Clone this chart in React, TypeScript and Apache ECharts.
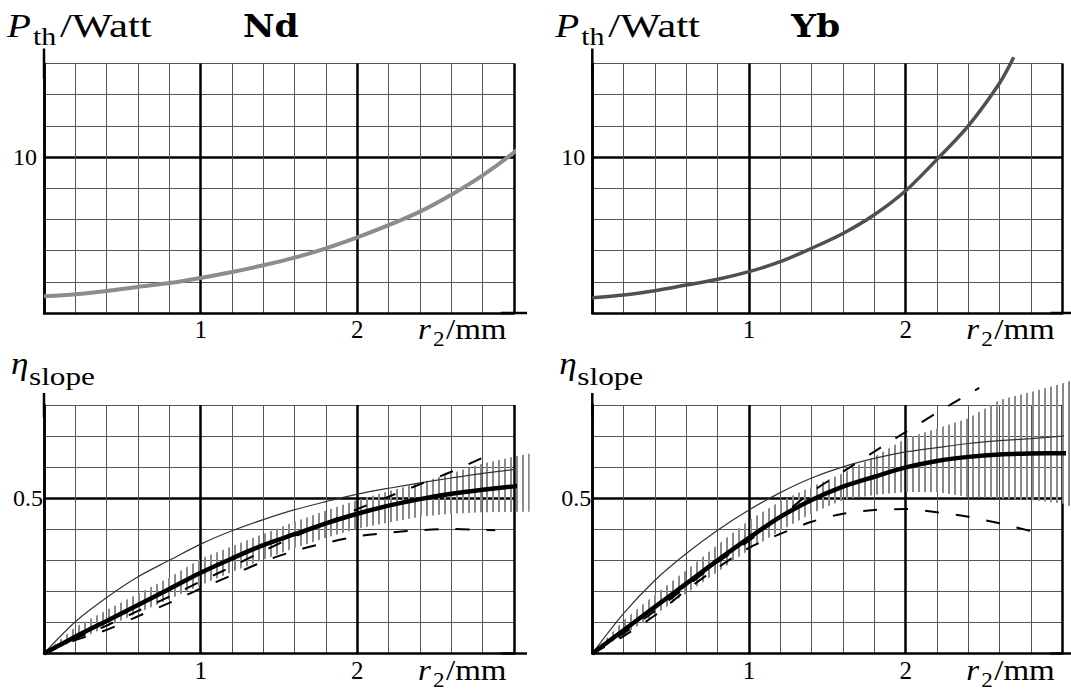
import React, { useEffect, useRef } from 'react';
import * as echarts from 'echarts';

// ---------- data (r2 in mm) ----------
const R_TOP_ND = [0, 0.2, 0.4, 0.6, 0.8, 1, 1.2, 1.4, 1.6, 1.8, 2, 2.2, 2.4, 2.6, 2.8, 3, 3.1];
const P_TH_ND = [1.07, 1.2, 1.41, 1.67, 1.92, 2.25, 2.63, 3.06, 3.55, 4.15, 4.85, 5.63, 6.5, 7.58, 8.82, 10.3, 11.2];
const R_TOP_YB = [0, 0.2, 0.4, 0.6, 0.8, 1, 1.2, 1.4, 1.6, 1.8, 2, 2.2, 2.4, 2.6, 2.69];
const P_TH_YB = [0.98, 1.15, 1.43, 1.79, 2.16, 2.65, 3.29, 4.15, 5.1, 6.3, 7.84, 9.85, 12.0, 14.75, 16.4];

const R_ND_THICK = [0, 0.2, 0.4, 0.6, 0.8, 1, 1.2, 1.4, 1.6, 1.8, 2, 2.2, 2.4, 2.6, 2.8, 3, 3.18];
const ETA_ND_THICK = [0, 0.054, 0.105, 0.156, 0.208, 0.26, 0.306, 0.349, 0.384, 0.419, 0.45, 0.476, 0.497, 0.514, 0.527, 0.538, 0.549];
const R_ND_THIN = [0, 0.2, 0.4, 0.6, 0.8, 1, 1.2, 1.4, 1.6, 1.8, 2, 2.2, 2.4, 2.6, 2.8, 3, 3.08];
const ETA_ND_THIN = [0, 0.102, 0.18, 0.247, 0.3, 0.352, 0.395, 0.431, 0.463, 0.489, 0.513, 0.532, 0.549, 0.565, 0.58, 0.592, 0.597];
const R_ND_DASH = [0, 0.2, 0.4, 0.6, 0.8, 1, 1.2, 1.4, 1.6, 1.8, 2, 2.2, 2.4, 2.6, 2.8, 2.88];
const ETA_ND_DASH_UP = [0, 0.048, 0.09, 0.137, 0.183, 0.232, 0.28, 0.33, 0.377, 0.42, 0.465, 0.505, 0.545, 0.585, 0.63, 0.648];
const ETA_ND_DASH_LO = [0, 0.043, 0.076, 0.12, 0.163, 0.209, 0.252, 0.296, 0.33, 0.356, 0.377, 0.389, 0.397, 0.401, 0.398, 0.397];
const R_ND_BAND = [0, 0.2, 0.4, 0.6, 0.8, 1, 1.2, 1.4, 1.6, 1.8, 2, 2.2, 2.4, 2.6, 2.8, 3, 3.1];
const ETA_ND_BAND_LO = [0, 0.04, 0.085, 0.13, 0.175, 0.22, 0.262, 0.302, 0.34, 0.373, 0.402, 0.422, 0.44, 0.45, 0.455, 0.456, 0.456];
const ETA_ND_BAND_HI = [0, 0.085, 0.14, 0.192, 0.245, 0.305, 0.345, 0.385, 0.424, 0.46, 0.494, 0.522, 0.55, 0.58, 0.612, 0.633, 0.644];

const R_YB_THICK = [0, 0.2, 0.4, 0.6, 0.8, 1, 1.2, 1.4, 1.6, 1.8, 2, 2.2, 2.4, 2.6, 2.8, 3, 3.06];
const ETA_YB_THICK = [0, 0.075, 0.15, 0.225, 0.3, 0.372, 0.44, 0.494, 0.537, 0.569, 0.599, 0.62, 0.633, 0.641, 0.644, 0.645, 0.645];
const R_YB_THIN = [0, 0.2, 0.4, 0.6, 0.8, 1, 1.2, 1.4, 1.6, 1.8, 2, 2.2, 2.4, 2.6, 2.8, 3, 3.06];
const ETA_YB_THIN = [0, 0.129, 0.236, 0.322, 0.397, 0.462, 0.518, 0.565, 0.601, 0.628, 0.649, 0.663, 0.676, 0.685, 0.692, 0.7, 0.703];
const R_YB_DASH_UP = [0, 0.2, 0.4, 0.6, 0.8, 1, 1.2, 1.4, 1.6, 1.8, 2, 2.2, 2.4, 2.47];
const ETA_YB_DASH_UP = [0, 0.065, 0.137, 0.215, 0.293, 0.363, 0.44, 0.52, 0.585, 0.65, 0.713, 0.775, 0.835, 0.855];
const R_YB_DASH_LO = [0, 0.2, 0.4, 0.6, 0.8, 1, 1.2, 1.4, 1.6, 1.8, 2, 2.2, 2.4, 2.6, 2.8, 2.87];
const ETA_YB_DASH_LO = [0, 0.056, 0.123, 0.204, 0.276, 0.34, 0.385, 0.424, 0.45, 0.462, 0.465, 0.455, 0.44, 0.419, 0.394, 0.385];
const R_YB_BAND = [0, 0.2, 0.4, 0.6, 0.8, 1, 1.2, 1.4, 1.6, 1.8, 2, 2.2, 2.4, 2.6, 2.8, 3, 3.06];
const ETA_YB_BAND_LO = [0, 0.059, 0.125, 0.193, 0.262, 0.333, 0.395, 0.451, 0.494, 0.51, 0.52, 0.52, 0.504, 0.499, 0.494, 0.483, 0.472];
const ETA_YB_BAND_HI = [0, 0.107, 0.19, 0.268, 0.35, 0.429, 0.49, 0.537, 0.58, 0.633, 0.692, 0.724, 0.757, 0.816, 0.842, 0.869, 0.88];

const X_TICK_LABELS = [1, 2];
const Y_TOP_LABEL = 10;
const Y_BOT_LABEL = 0.5;
const PANEL_TITLES = ['Nd', 'Yb'];

// ---------- layout ----------
const GRIDS = [
  { left: 44, top: 63.5, width: 470, height: 249.5 },
  { left: 592.3, top: 63.5, width: 470, height: 249.5 },
  { left: 44, top: 405, width: 470, height: 248.5 },
  { left: 592.3, top: 405, width: 470, height: 248.5 },
];
const FONT = 'Liberation Serif';
const FONT_BOLD = 'DejaVu Serif';
const THIN = { color: '#555', width: 1 };
const THICK = { color: '#000', width: 2.5 };

function stripe() {
  const c = document.createElement('canvas');
  c.width = 6;
  c.height = 6;
  const ctx = c.getContext('2d');
  if (ctx) {
    ctx.fillStyle = '#8a8a8a';
    ctx.fillRect(0, 0, 2, 6);
  }
  return { image: c.toDataURL(), repeat: 'repeat', imageWidth: 6, imageHeight: 6 };
}

function txt(text: string, x: number, base: number, size: number, o: any = {}) {
  const fam = o.fam || FONT;
  const font = `${o.italic ? 'italic ' : ''}${o.bold ? 'bold ' : ''}${size}px ${fam}`;
  return {
    type: 'text',
    x,
    y: base - 0.3375 * size,
    scaleX: o.sx || 1,
    silent: true,
    style: { text, fill: '#000', font, align: 'left', verticalAlign: 'middle' },
  };
}

function buildOption() {
  const pattern = stripe();
  const xAxis: any[] = [];
  const yAxis: any[] = [];
  GRIDS.forEach((_, g) => {
    const top = g < 2;
    const right = g % 2 === 1;
    xAxis.push({
      gridIndex: g, type: 'value', min: 0, max: 3, interval: 0.2, position: 'bottom',
      axisLine: { show: false }, axisTick: { show: false }, axisLabel: { show: false },
      splitLine: { show: true, lineStyle: THIN },
    });
    xAxis.push({
      gridIndex: g, type: 'value', min: 0, max: 3, interval: 1, position: 'bottom',
      axisLine: {
        show: true, onZero: false, lineStyle: THICK,
        symbol: ['none', 'rect'], symbolSize: [2.5, right ? 24 : 26],
      },
      axisTick: { show: false },
      axisLabel: {
        show: true, margin: 4, fontSize: 25, fontFamily: FONT, color: '#000',
        formatter: (v: number) => (X_TICK_LABELS.indexOf(v) >= 0 ? String(v) : ''),
      },
      splitLine: { show: true, lineStyle: THICK },
    });
    yAxis.push({
      gridIndex: g, type: 'value', min: 0, max: top ? 16 : 0.8, interval: top ? 2 : 0.1, position: 'left',
      axisLine: { show: false }, axisTick: { show: false }, axisLabel: { show: false },
      splitLine: { show: true, lineStyle: THIN },
    });
    yAxis.push({
      gridIndex: g, type: 'value', min: 0, max: top ? 16 : 0.8, interval: top ? 10 : 0.5, position: 'left',
      axisLine: {
        show: true, onZero: false, lineStyle: THICK,
        symbol: ['none', 'rect'], symbolSize: [2.5, top ? 30 : 24],
      },
      axisTick: { show: false },
      axisLabel: {
        show: true, margin: top ? 7 : 1, fontSize: 24, fontFamily: FONT, color: '#000',
        formatter: (v: number) =>
          top ? (v === Y_TOP_LABEL ? String(v) : '') : (Math.abs(v - Y_BOT_LABEL) < 1e-9 ? String(v) : ''),
      },
      splitLine: { show: true, showMinLine: false, showMaxLine: false, lineStyle: THICK },
    });
  });

  const line = (g: number, xs: number[], ys: number[], lineStyle: any, extra: any = {}) => ({
    type: 'line', xAxisIndex: 2 * g + 1, yAxisIndex: 2 * g + 1,
    data: xs.map((x, i) => [x, ys[i]]),
    symbol: 'none', showSymbol: false, smooth: 0.3,
    clip: false, silent: true, z: 3, lineStyle, ...extra,
  });
  const band = (g: number, xs: number[], lo: number[], hi: number[]) => ({
    type: 'custom', xAxisIndex: 2 * g + 1, yAxisIndex: 2 * g + 1,
    data: [[xs[0], lo[0]]], clip: false, silent: true, z: 2,
    renderItem: (_p: any, api: any) => {
      const upper = xs.map((x, i) => api.coord([x, hi[i]]));
      const lower = xs.map((x, i) => api.coord([x, lo[i]])).reverse();
      return {
        type: 'polygon',
        shape: { points: upper.concat(lower) },
        style: { fill: pattern, stroke: null },
      };
    },
  });
  const dash = { color: '#000', width: 2, type: [14, 17] };

  const series: any[] = [
    line(0, R_TOP_ND, P_TH_ND, { color: '#8c8c8c', width: 4 }),
    line(1, R_TOP_YB, P_TH_YB, { color: '#505050', width: 3.5 }),
    band(2, R_ND_BAND, ETA_ND_BAND_LO, ETA_ND_BAND_HI),
    line(2, R_ND_THIN, ETA_ND_THIN, { color: '#333', width: 1.2 }),
    line(2, R_ND_DASH, ETA_ND_DASH_UP, dash),
    line(2, R_ND_DASH, ETA_ND_DASH_LO, dash),
    line(2, R_ND_THICK, ETA_ND_THICK, { color: '#000', width: 4.5 }),
    band(3, R_YB_BAND, ETA_YB_BAND_LO, ETA_YB_BAND_HI),
    line(3, R_YB_THIN, ETA_YB_THIN, { color: '#333', width: 1.2 }),
    line(3, R_YB_DASH_UP, ETA_YB_DASH_UP, dash),
    line(3, R_YB_DASH_LO, ETA_YB_DASH_LO, dash),
    line(3, R_YB_THICK, ETA_YB_THICK, { color: '#000', width: 4.5 }),
  ];

  const graphic: any[] = [];
  [0, 548.3].forEach((dx, k) => {
    graphic.push(txt('P', 7 + dx, 37, 34, { italic: true, sx: 1.15 }));
    graphic.push(txt('th', 33 + dx, 45, 26, { sx: 1.15 }));
    graphic.push(txt('/Watt', 60 + dx, 37, 34, { sx: 1.26 }));
    graphic.push(txt(PANEL_TITLES[k], 243 + dx, 37, 32, { bold: true, sx: 1.08, fam: FONT_BOLD }));
    graphic.push(txt('η', 11 + dx, 374, 32, { italic: true, sx: 1.1 }));
    graphic.push(txt('slope', 29 + dx, 385, 25, { sx: 1.25 }));
    [339, 680].forEach((b) => {
      graphic.push(txt('r', 418 + dx, b, 30, { italic: true, sx: 1.1 }));
      graphic.push(txt('2', 433 + dx, b + 7, 21, { sx: 1.1 }));
      graphic.push(txt('/mm', 446 + dx, b, 30, { sx: 1.1 }));
    });
  });

  return {
    animation: false,
    backgroundColor: '#fff',
    grid: GRIDS.map((g) => ({ ...g, containLabel: false })),
    xAxis,
    yAxis,
    series,
    graphic,
  };
}

export default function App() {
  const ref = useRef<HTMLDivElement>(null);
  useEffect(() => {
    if (!ref.current) return;
    const chart = echarts.init(ref.current, undefined, { renderer: 'svg' });
    chart.setOption(buildOption() as any);
    return () => chart.dispose();
  }, []);
  return (
    <div
      ref={ref}
      style={{ position: 'absolute', left: 0, top: 0, width: 1071, height: 691, background: '#fff' }}
    />
  );
}
